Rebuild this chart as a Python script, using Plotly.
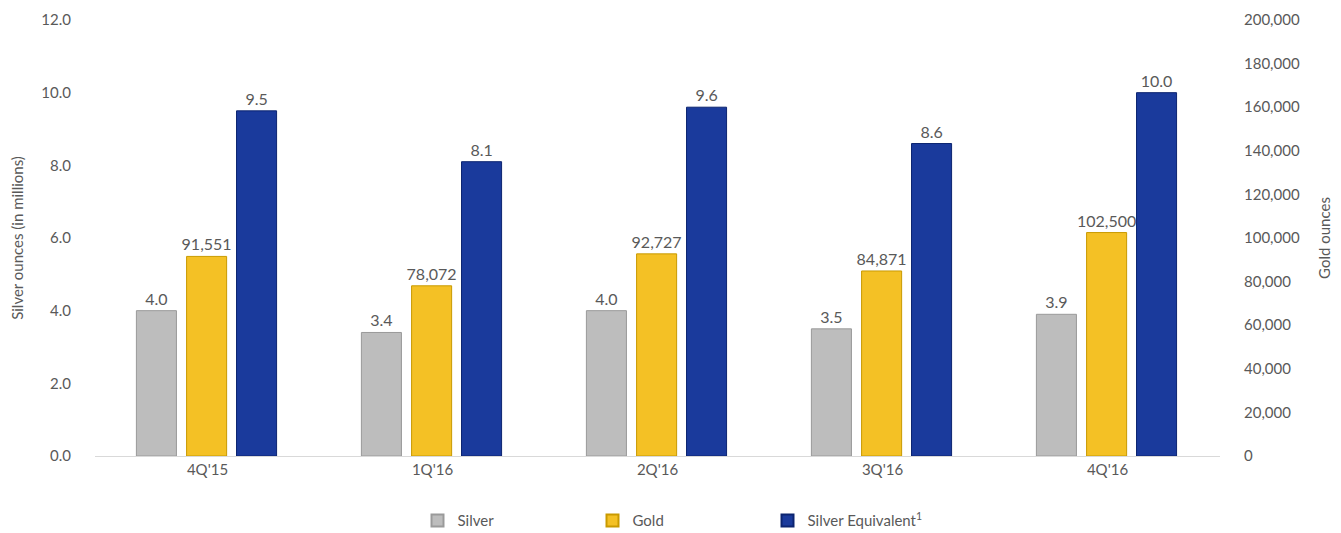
import plotly.graph_objects as go

quarters = ["4Q'15", "1Q'16", "2Q'16", "3Q'16", "4Q'16"]
silver = [4.0, 3.4, 4.0, 3.5, 3.9]
gold = [91551, 78072, 92727, 84871, 102500]
silver_eq = [9.5, 8.1, 9.6, 8.6, 10.0]

FONT = "Lato, 'Open Sans', sans-serif"
GRAY = "#595959"
BW = 0.178

common_text = dict(textposition="outside", cliponaxis=False, constraintext="none",
                   textfont=dict(color=GRAY, size=16, family=FONT))

fig = go.Figure()
fig.add_trace(go.Bar(
    x=quarters, y=silver, name="Silver", yaxis="y",
    width=BW, offset=-0.316,
    marker=dict(color="#bdbdbd", line=dict(color="#9a9a9a", width=1)),
    text=[f"{v:.1f}" for v in silver], **common_text,
))
fig.add_trace(go.Bar(
    x=quarters, y=gold, name="Gold", yaxis="y2",
    width=BW, offset=-0.093,
    marker=dict(color="#f4c125", line=dict(color="#c99a00", width=1)),
    text=[f"{v:,}" for v in gold], **common_text,
))
fig.add_trace(go.Bar(
    x=quarters, y=silver_eq, name="Silver Equivalent<sup>1</sup>", yaxis="y",
    width=BW, offset=0.129,
    marker=dict(color="#1a3a9c", line=dict(color="#0c2470", width=1)),
    text=[f"{v:.1f}" for v in silver_eq], **common_text,
))

fig.update_layout(
    width=1341, height=533,
    margin=dict(l=87, r=129, t=12, b=85, autoexpand=False),
    paper_bgcolor="white", plot_bgcolor="white",
    font=dict(family=FONT, color=GRAY, size=15),
    barmode="overlay",
    showlegend=True,
    legend=dict(orientation="h", x=0.52, xanchor="center", xref="paper",
                y=0.038, yanchor="middle", yref="container",
                font=dict(size=15, color=GRAY), entrywidth=130, entrywidthmode="pixels",
                itemsizing="constant"),
    xaxis=dict(showgrid=False, showline=True, linecolor="#d9d9d9", linewidth=1,
               ticks="", tickfont=dict(size=15, color=GRAY), automargin=False),
    yaxis=dict(range=[0, 12], dtick=2, tickformat=".1f", showgrid=False, zeroline=False,
               showline=False, ticks="outside", ticklen=20, tickcolor="white",
               tickfont=dict(size=15, color=GRAY), automargin=False,
               title=dict(text="Silver ounces (in millions)", font=dict(size=15, color=GRAY), standoff=14)),
    yaxis2=dict(range=[0, 200000], dtick=20000, tickformat=",", overlaying="y", side="right",
                showgrid=False, zeroline=False, showline=False, ticks="outside", ticklen=20,
                tickcolor="white", tickfont=dict(size=15, color=GRAY), automargin=False,
                title=dict(text="Gold ounces", font=dict(size=15, color=GRAY), standoff=20)),
)

fig.write_html("out.html")
